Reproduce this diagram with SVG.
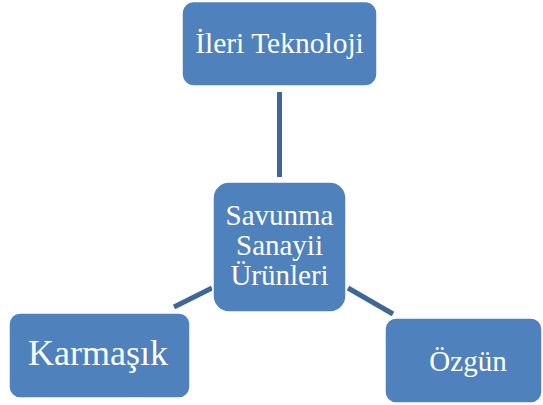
<svg xmlns="http://www.w3.org/2000/svg" width="543" height="405" viewBox="0 0 543 405">
<style>
.box{fill:#4F81BD;stroke:#FFFFFF;stroke-width:1.5}
.lbl{fill:#FFFFFF;text-anchor:middle}
.conn{stroke:#3E6696;stroke-width:5;fill:none}
</style>
<rect width="543" height="405" fill="#FFFFFF"/>
<g id="connectors">
<line class="conn" x1="279.5" y1="92" x2="279.5" y2="177"/>
<line class="conn" x1="212" y1="288" x2="174" y2="307"/>
<line class="conn" x1="348" y1="288" x2="393" y2="314"/>
</g>
<g font-family="'Liberation Serif', 'Times New Roman', 'DejaVu Serif', serif">
<g id="node-ileri">
<rect class="box" x="182" y="1.5" width="195" height="84.5" rx="12"/>
<text class="lbl" x="279.5" y="53" font-size="29.5">İleri Teknoloji</text>
</g>
<g id="node-savunma">
<rect class="box" x="213" y="182" width="133" height="130" rx="16"/>
<text class="lbl" font-size="29"><tspan x="279.5" y="225">Savunma</tspan><tspan x="279.5" y="255">Sanayii</tspan><tspan x="279.5" y="285">Ürünleri</tspan></text>
</g>
<g id="node-karmasik">
<rect class="box" x="9" y="313" width="181" height="85" rx="11"/>
<text class="lbl" x="98" y="365" font-size="36">Karmaşık</text>
</g>
<g id="node-ozgun">
<rect class="box" x="385" y="318" width="157" height="85" rx="11"/>
<text class="lbl" x="468" y="371" font-size="29">Özgün</text>
</g>
</g>
</svg>
